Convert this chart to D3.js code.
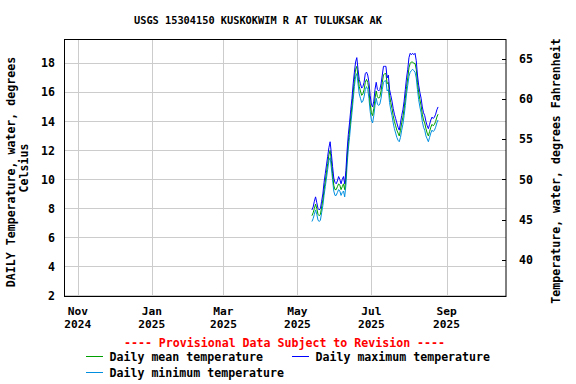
<!DOCTYPE html>
<html>
<head>
<meta charset="utf-8">
<script src="https://cdn.jsdelivr.net/npm/d3@7"></script>
<style>
  body { margin: 0; background: #fff; }
  text { font-family: "DejaVu Sans Mono", "Liberation Mono", monospace; font-weight: bold; }
</style>
</head>
<body>
<div id="chart"></div>
<script>
// daily values, starting 2025-05-13 (deg C)
var startDate = "2025-05-13";
var maxTemp = [7.9, 8.1, 8.5, 8.8, 8.4, 8.0, 7.9, 8.0, 8.5, 9.0,
    9.8, 10.4, 11.0, 11.6, 12.2, 12.6, 11.8, 10.9, 10.1, 9.8,
    9.7, 9.9, 10.2, 10.0, 9.7, 10.0, 10.2, 9.7, 10.6, 12.0,
    13.1, 13.9, 14.8, 15.6, 16.6, 17.4, 18.1, 18.4, 17.6, 16.9,
    16.6, 16.3, 16.4, 16.7, 17.3, 17.4, 17.2, 16.7, 15.8, 15.2,
    15.0, 15.4, 16.2, 16.7, 16.2, 16.1, 16.2, 16.6, 17.2, 17.8,
    17.8, 17.8, 17.0, 17.2, 16.2, 15.8, 15.4, 14.9, 14.5, 14.2,
    13.9, 13.6, 13.4, 13.9, 14.4, 14.8, 15.4, 16.2, 17.0, 17.6,
    18.4, 18.7, 18.6, 18.7, 18.6, 18.7, 18.2, 17.2, 16.5, 16.0,
    15.6, 15.0, 14.6, 14.4, 14.0, 13.7, 13.5, 13.8, 14.1, 14.3,
    14.2, 14.3, 14.5, 14.8, 15.0];
var meanTemp = [7.5, 7.7, 8.0, 8.3, 8.0, 7.6, 7.5, 7.6, 8.1, 8.6,
    9.3, 9.9, 10.5, 11.1, 11.7, 12.0, 11.3, 10.4, 9.6, 9.3,
    9.3, 9.5, 9.7, 9.6, 9.3, 9.5, 9.7, 9.3, 10.1, 11.5,
    12.6, 13.4, 14.3, 15.1, 16.0, 16.9, 17.6, 17.8, 17.1, 16.4,
    16.1, 15.8, 15.9, 16.2, 16.7, 16.9, 16.7, 16.2, 15.2, 14.6,
    14.4, 14.9, 15.6, 16.1, 15.7, 15.6, 15.7, 16.1, 16.7, 17.2,
    17.3, 17.3, 16.6, 16.7, 15.8, 15.3, 14.9, 14.4, 14.0, 13.7,
    13.4, 13.2, 13.0, 13.4, 13.9, 14.3, 14.9, 15.6, 16.4, 17.0,
    17.7, 18.0, 18.1, 18.1, 18.0, 18.0, 17.6, 16.7, 16.0, 15.5,
    15.1, 14.5, 14.1, 13.9, 13.5, 13.2, 13.0, 13.3, 13.6, 13.8,
    13.7, 13.8, 14.0, 14.3, 14.5];
var minTemp = [7.1, 7.3, 7.6, 7.9, 7.6, 7.2, 7.1, 7.2, 7.7, 8.2,
    8.9, 9.5, 10.1, 10.7, 11.3, 11.5, 10.8, 10.0, 9.2, 8.9,
    8.9, 9.1, 9.3, 9.2, 8.9, 9.1, 9.2, 8.8, 9.6, 11.0,
    12.1, 12.9, 13.8, 14.6, 15.5, 16.4, 17.1, 17.3, 16.6, 15.9,
    15.6, 15.3, 15.4, 15.7, 16.2, 16.4, 16.2, 15.6, 14.7, 14.1,
    13.9, 14.4, 15.1, 15.6, 15.2, 15.1, 15.2, 15.6, 16.2, 16.7,
    16.8, 16.8, 16.1, 16.2, 15.3, 14.8, 14.4, 13.9, 13.5, 13.2,
    12.9, 12.7, 12.6, 12.9, 13.4, 13.8, 14.4, 15.1, 15.9, 16.5,
    17.1, 17.4, 17.5, 17.6, 17.5, 17.4, 17.0, 16.2, 15.5, 15.0,
    14.6, 14.0, 13.6, 13.4, 13.0, 12.8, 12.6, 12.9, 13.2, 13.4,
    13.3, 13.4, 13.6, 13.9, 14.1];

var celsiusTicks = [2, 4, 6, 8, 10, 12, 14, 16, 18];
var fahrenheitTicks = [40, 45, 50, 55, 60, 65];
var monthTicks = ["2024-11-01", "2025-01-01", "2025-03-01", "2025-05-01", "2025-07-01", "2025-09-01"];
var monthLabels = [["Nov", "2024"], ["Jan", "2025"], ["Mar", "2025"], ["May", "2025"], ["Jul", "2025"], ["Sep", "2025"]];

var width = 576, height = 384;
var pLeft = 64.5, pRight = 506, pTop = 39.5, pBottom = 296.5;

var svg = d3.select("#chart").append("svg")
    .attr("width", width)
    .attr("height", height);

var x = d3.scaleUtc()
    .domain([new Date("2024-10-21"), new Date("2025-10-20")])
    .range([pLeft, pRight]);
var y = d3.scaleLinear()
    .domain([1.93, 19.65])
    .range([pBottom, pTop]);
var yF = d3.scaleLinear()
    .domain([1.93 * 1.8 + 32, 19.65 * 1.8 + 32])
    .range([pBottom, pTop]);

var parse = d3.utcParse("%Y-%m-%d");
var t0 = parse(startDate);
function rows(arr) {
    return arr.map(function (v, i) { return { date: d3.utcDay.offset(t0, i), v: v }; });
}

// grid
svg.append("g").selectAll("line")
    .data(celsiusTicks).enter().append("line")
    .attr("x1", pLeft).attr("x2", pRight)
    .attr("y1", function (d) { return Math.round(y(d)) + 0.5; })
    .attr("y2", function (d) { return Math.round(y(d)) + 0.5; })
    .attr("stroke", "#cccccc");
svg.append("g").selectAll("line")
    .data(monthTicks).enter().append("line")
    .attr("x1", function (d) { return Math.round(x(parse(d))) + 0.5; })
    .attr("x2", function (d) { return Math.round(x(parse(d))) + 0.5; })
    .attr("y1", pTop).attr("y2", pBottom)
    .attr("stroke", "#cccccc");

// series
var line = d3.line()
    .x(function (d) { return x(d.date); })
    .y(function (d) { return y(d.v); });
var series = [
    { name: "Daily mean temperature", data: meanTemp, color: "#00a000" },
    { name: "Daily maximum temperature", data: maxTemp, color: "#0000ff" },
    { name: "Daily minimum temperature", data: minTemp, color: "#008fe0" }
];
[series[2], series[0], series[1]].forEach(function (s) {
    svg.append("path")
        .datum(rows(s.data))
        .attr("fill", "none")
        .attr("stroke", s.color)
        .attr("stroke-width", 1)
        .attr("d", line);
});

// frame
svg.append("rect")
    .attr("x", pLeft).attr("y", pTop)
    .attr("width", pRight - pLeft).attr("height", pBottom - pTop)
    .attr("fill", "none").attr("stroke", "#000");

// left axis labels
svg.append("g").selectAll("text")
    .data(celsiusTicks).enter().append("text")
    .attr("x", 55).attr("y", function (d) { return y(d); })
    .attr("dy", "0.35em")
    .attr("text-anchor", "end")
    .style("font-size", "11.6px")
    .text(function (d) { return d; });

// right axis ticks + labels
svg.append("g").selectAll("line")
    .data(fahrenheitTicks).enter().append("line")
    .attr("x1", pRight - 4).attr("x2", pRight)
    .attr("y1", function (d) { return Math.round(yF(d)) + 0.5; })
    .attr("y2", function (d) { return Math.round(yF(d)) + 0.5; })
    .attr("stroke", "#000");
svg.append("g").selectAll("text")
    .data(fahrenheitTicks).enter().append("text")
    .attr("x", 519).attr("y", function (d) { return yF(d); })
    .attr("dy", "0.35em")
    .style("font-size", "11.6px")
    .text(function (d) { return d; });

// bottom labels
var xl = svg.append("g").selectAll("g")
    .data(monthTicks).enter().append("g")
    .attr("transform", function (d) { return "translate(" + x(parse(d)) + ",0)"; });
xl.append("text").attr("y", 311).attr("dy", "0.35em")
    .attr("text-anchor", "middle").style("font-size", "11.2px")
    .text(function (d, i) { return monthLabels[i][0]; });
xl.append("text").attr("y", 324).attr("dy", "0.35em")
    .attr("text-anchor", "middle").style("font-size", "11.2px")
    .text(function (d, i) { return monthLabels[i][1]; });

// title
svg.append("text")
    .attr("x", 258).attr("y", 20).attr("dy", "0.35em")
    .attr("text-anchor", "middle").style("font-size", "10.3px")
    .text("USGS 15304150 KUSKOKWIM R AT TULUKSAK AK");

// axis titles
svg.append("text")
    .attr("transform", "translate(11,172) rotate(-90)")
    .attr("dy", "0.35em").attr("text-anchor", "middle").style("font-size", "11.6px")
    .text("DAILY Temperature, water, degrees");
svg.append("text")
    .attr("transform", "translate(24,168) rotate(-90)")
    .attr("dy", "0.35em").attr("text-anchor", "middle").style("font-size", "11.6px")
    .text("Celsius");
svg.append("text")
    .attr("transform", "translate(556,171) rotate(-90)")
    .attr("dy", "0.35em").attr("text-anchor", "middle").style("font-size", "11.6px")
    .text("Temperature, water, degrees Fahrenheit");

// provisional note + legend
svg.append("text")
    .attr("x", 284.5).attr("y", 343.3).attr("dy", "0.35em")
    .attr("text-anchor", "middle").style("font-size", "11.6px")
    .attr("fill", "#ff0000")
    .text("---- Provisional Data Subject to Revision ----");

var legendPos = [[86, 356.7], [292, 356.7], [86, 372.7]];
series.forEach(function (s, i) {
    var p = legendPos[i];
    svg.append("line")
        .attr("x1", p[0]).attr("x2", p[0] + 17)
        .attr("y1", Math.round(p[1]) - 0.5).attr("y2", Math.round(p[1]) - 0.5)
        .attr("stroke", s.color);
    svg.append("text")
        .attr("x", p[0] + 23.5).attr("y", p[1]).attr("dy", "0.35em")
        .style("font-size", "11.6px")
        .text(s.name);
});
</script>
</body>
</html>
